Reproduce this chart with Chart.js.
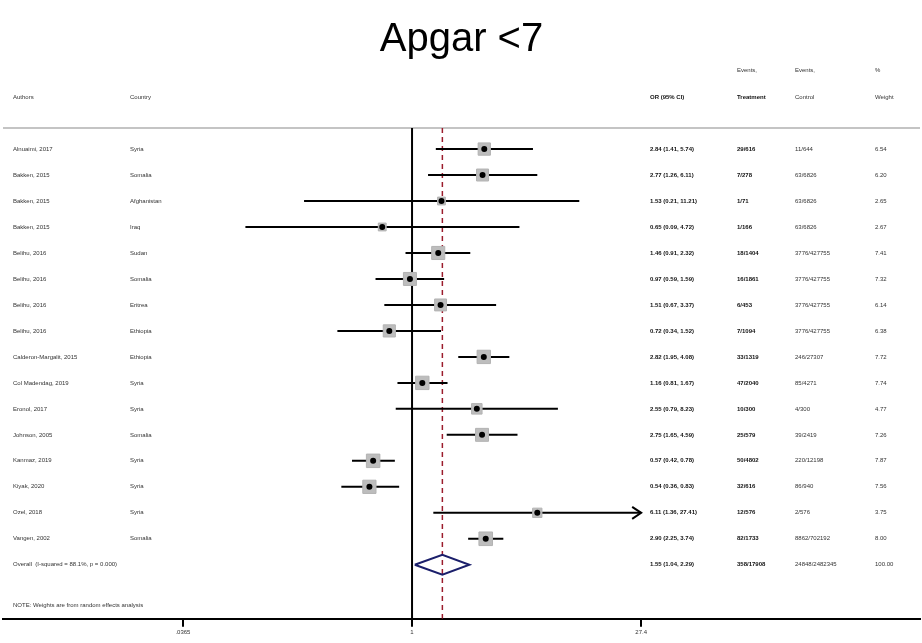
<!DOCTYPE html>
<html>
<head>
<meta charset="utf-8">
<title>Apgar &lt;7</title>
<script src="https://cdn.jsdelivr.net/npm/chart.js@4.4.1/dist/chart.umd.min.js"></script>
<style>
  html, body { margin: 0; padding: 0; background: #fff; }
  #wrap { width: 922px; height: 643px; }
</style>
</head>
<body>
<div id="wrap"><canvas id="forestChart"></canvas></div>
<script>
// study rows, top to bottom
const authors = ['Alnuaimi, 2017', 'Bakken, 2015', 'Bakken, 2015', 'Bakken, 2015', 'Belihu, 2016',
    'Belihu, 2016', 'Belihu, 2016', 'Belihu, 2016', 'Calderon-Margalit, 2015', 'Col Madendag, 2019',
    'Eronol, 2017', 'Johnson, 2005', 'Kanmaz, 2019', 'Kiyak, 2020', 'Ozel, 2018', 'Vangen, 2002'];
const countries = ['Syria', 'Somalia', 'Afghanistan', 'Iraq', 'Sudan', 'Somalia', 'Eritrea', 'Ethiopia',
    'Ethiopia', 'Syria', 'Syria', 'Somalia', 'Syria', 'Syria', 'Syria', 'Somalia'];
const oddsRatio = [2.84, 2.77, 1.53, 0.65, 1.46, 0.97, 1.51, 0.72, 2.82, 1.16, 2.55, 2.75, 0.57, 0.54, 6.11, 2.90];
const ciLower = [1.41, 1.26, 0.21, 0.09, 0.91, 0.59, 0.67, 0.34, 1.95, 0.81, 0.79, 1.65, 0.42, 0.36, 1.36, 2.25];
const ciUpper = [5.74, 6.11, 11.21, 4.72, 2.32, 1.59, 3.37, 1.52, 4.08, 1.67, 8.23, 4.59, 0.78, 0.83, 27.41, 3.74];
const eventsTreatment = ['29/616', '7/278', '1/71', '1/166', '18/1404', '16/1861', '6/453', '7/1094',
    '33/1319', '47/2040', '10/300', '25/579', '50/4802', '32/616', '12/576', '82/1733'];
const eventsControl = ['11/644', '63/6826', '63/6826', '63/6826', '3776/427755', '3776/427755', '3776/427755',
    '3776/427755', '246/27307', '85/4271', '4/300', '39/2419', '220/12198', '86/940', '2/576', '8862/702192'];
const weights = [6.54, 6.20, 2.65, 2.67, 7.41, 7.32, 6.14, 6.38, 7.72, 7.74, 4.77, 7.26, 7.87, 7.56, 3.75, 8.00];

// pooled estimate
const overallLabel = 'Overall  (I-squared = 88.1%, p = 0.000)';
const overallOR = 1.55;
const overallLower = 1.04;
const overallUpper = 2.29;
const overallTreatment = '358/17908';
const overallControl = '24848/2482345';
const overallWeight = '100.00';

// axis
const tickValues = [0.0365, 1, 27.4];
const tickLabels = ['.0365', '1', '27.4'];

const FONT = "'Liberation Sans', Arial, Helvetica, sans-serif";
const Y_MIN = 0.19;
const Y_MAX = 19.08;
const overallRow = authors.length + 1;
const noteRow = 18.58;

const fmt = v => v.toFixed(2);
const orText = (o, l, h) => fmt(o) + ' (' + fmt(l) + ', ' + fmt(h) + ')';

const forestText = {
    id: 'forestText',
    beforeDatasetsDraw(chart) {
        const { ctx, chartArea } = chart;
        ctx.save();
        ctx.strokeStyle = '#c4c4c4';
        ctx.lineWidth = 2;
        ctx.beginPath();
        ctx.moveTo(chartArea.left, chartArea.top);
        ctx.lineTo(chartArea.right, chartArea.top);
        ctx.stroke();
        ctx.restore();
    },
    afterDatasetsDraw(chart) {
        const { ctx, scales: { x, y } } = chart;
        const col = { author: 13, country: 130, or: 650, treat: 737, control: 795, weight: 875 };
        ctx.save();
        ctx.textBaseline = 'middle';
        ctx.textAlign = 'left';

        const put = (txt, cx, row, bold) => {
            ctx.font = (bold ? 'bold ' : '') + '6px ' + FONT;
            ctx.fillStyle = bold ? '#111' : '#333';
            ctx.fillText(txt, cx, y.getPixelForValue(row));
        };

        // header
        put('Events,', col.treat, -2.04, false);
        put('Events,', col.control, -2.04, false);
        put('%', col.weight, -2.04, false);
        put('Authors', col.author, -1, false);
        put('Country', col.country, -1, false);
        put('OR (95% CI)', col.or, -1, true);
        put('Treatment', col.treat, -1, true);
        put('Control', col.control, -1, false);
        put('Weight', col.weight, -1, false);

        authors.forEach((a, i) => {
            const r = i + 1;
            put(a, col.author, r, false);
            put(countries[i], col.country, r, false);
            put(orText(oddsRatio[i], ciLower[i], ciUpper[i]), col.or, r, true);
            put(eventsTreatment[i], col.treat, r, true);
            put(eventsControl[i], col.control, r, false);
            put(fmt(weights[i]), col.weight, r, false);
        });

        put(overallLabel, col.author, overallRow, false);
        put(orText(overallOR, overallLower, overallUpper), col.or, overallRow, true);
        put(overallTreatment, col.treat, overallRow, true);
        put(overallControl, col.control, overallRow, false);
        put(overallWeight, col.weight, overallRow, false);

        put('NOTE: Weights are from random effects analysis', col.author, noteRow, false);

        // arrows for CIs running past the last tick
        const lastTick = tickValues[tickValues.length - 1];
        ctx.strokeStyle = '#000';
        ctx.lineWidth = 2;
        ciUpper.forEach((hi, i) => {
            if (hi <= lastTick) return;
            const px = x.getPixelForValue(hi);
            const py = y.getPixelForValue(i + 1);
            ctx.beginPath();
            ctx.moveTo(px - 9, py - 6);
            ctx.lineTo(px, py);
            ctx.lineTo(px - 9, py + 6);
            ctx.stroke();
        });
        ctx.restore();
    }
};

document.addEventListener('DOMContentLoaded', function () {
    const ctx = document.getElementById('forestChart');

    const ciSets = authors.map((a, i) => ({
        data: [{ x: ciLower[i], y: i + 1 }, { x: ciUpper[i], y: i + 1 }],
        showLine: true,
        borderColor: '#000',
        borderWidth: 2,
        pointRadius: 0,
        order: 4
    }));

    const dh = 0.385;
    new Chart(ctx, {
        type: 'scatter',
        data: {
            datasets: [
                {
                    data: [{ x: 1, y: Y_MIN }, { x: 1, y: Y_MAX }],
                    showLine: true, borderColor: '#000', borderWidth: 2, pointRadius: 0, order: 6
                },
                {
                    data: [{ x: overallOR, y: Y_MIN }, { x: overallOR, y: Y_MAX }],
                    showLine: true, borderColor: '#9b1c2c', borderWidth: 1.5, borderDash: [5, 4],
                    pointRadius: 0, order: 5
                },
                ...ciSets,
                {
                    data: oddsRatio.map((v, i) => ({ x: v, y: i + 1 })),
                    pointStyle: 'rect',
                    pointRadius: weights.map(w => 3.4 * Math.sqrt(w)),
                    backgroundColor: '#bdbdbd',
                    borderColor: '#b3b3b3',
                    borderWidth: 1,
                    order: 3
                },
                {
                    data: oddsRatio.map((v, i) => ({ x: v, y: i + 1 })),
                    pointStyle: 'circle',
                    pointRadius: 3,
                    backgroundColor: '#000',
                    borderColor: '#000',
                    borderWidth: 0,
                    order: 1
                },
                {
                    data: [
                        { x: overallLower, y: overallRow },
                        { x: overallOR, y: overallRow - dh },
                        { x: overallUpper, y: overallRow },
                        { x: overallOR, y: overallRow + dh },
                        { x: overallLower, y: overallRow }
                    ],
                    showLine: true, borderColor: '#1b1f6b', borderWidth: 2, pointRadius: 0, order: 2
                }
            ]
        },
        options: {
            responsive: true,
            maintainAspectRatio: false,
            animation: false,
            layout: { autoPadding: false, padding: { left: 3, right: 2, top: 0, bottom: 5 } },
            plugins: {
                legend: { display: false },
                tooltip: { enabled: false },
                title: {
                    display: true,
                    text: 'Apgar <7',
                    color: '#000',
                    font: { size: 40, family: FONT, weight: 'normal' },
                    padding: { top: 16, bottom: 64 }
                }
            },
            scales: {
                x: {
                    type: 'logarithmic',
                    min: 0.00271,
                    max: 1541,
                    bounds: 'data',
                    afterBuildTicks: axis => { axis.ticks = tickValues.map(v => ({ value: v })); },
                    ticks: {
                        autoSkip: false,
                        maxRotation: 0,
                        padding: 2,
                        color: '#333',
                        font: { size: 6, family: FONT },
                        callback: (v, i) => tickLabels[i]
                    },
                    grid: { drawOnChartArea: false, drawTicks: true, tickLength: 8, color: '#000', lineWidth: 2 },
                    border: { display: true, color: '#000', width: 2 }
                },
                y: {
                    type: 'linear',
                    reverse: true,
                    min: Y_MIN,
                    max: Y_MAX,
                    display: false
                }
            }
        },
        plugins: [forestText]
    });
});
</script>
</body>
</html>
